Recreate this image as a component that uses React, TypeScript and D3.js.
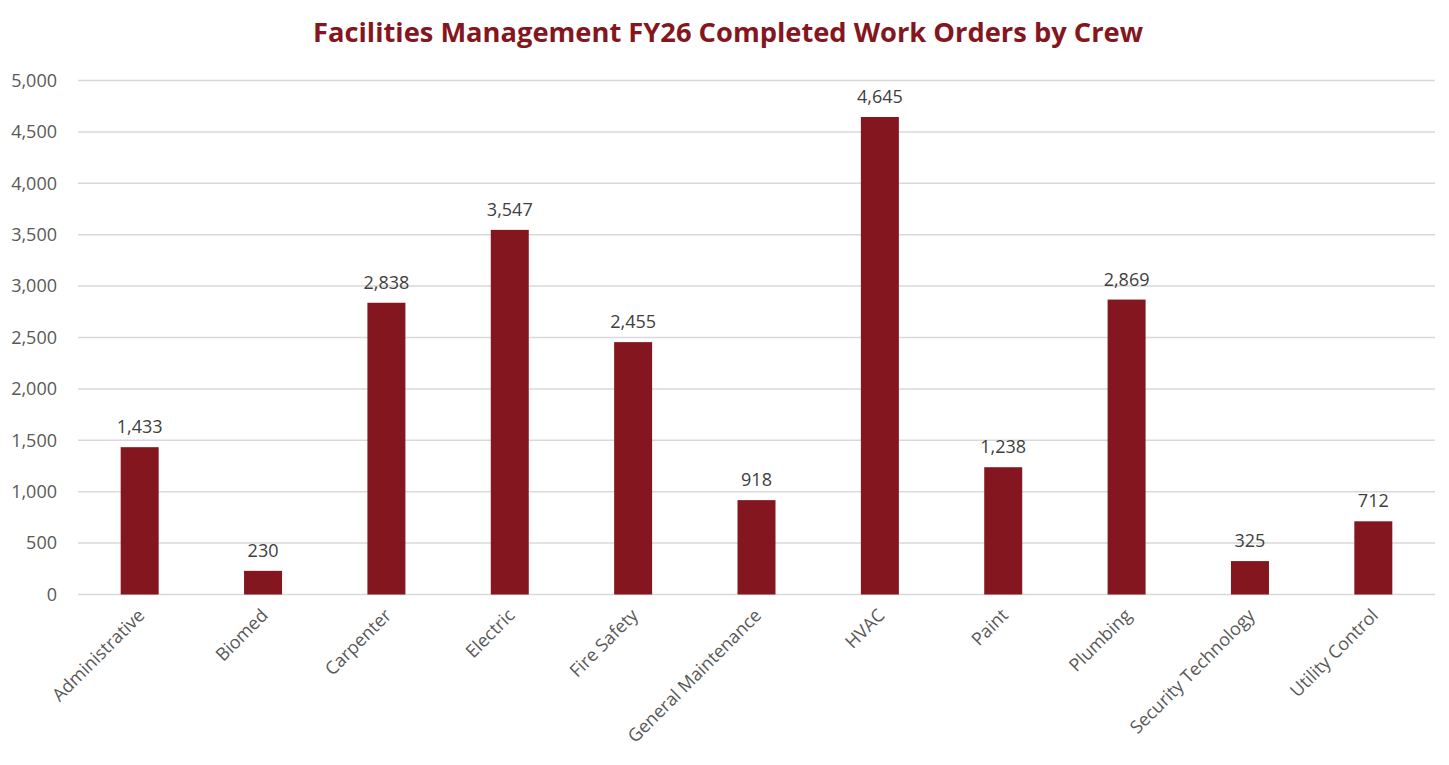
import React, {useEffect, useRef} from 'react';
import * as d3 from 'd3';

const crews = [
  'Administrative',
  'Biomed',
  'Carpenter',
  'Electric',
  'Fire Safety',
  'General Maintenance',
  'HVAC',
  'Paint',
  'Plumbing',
  'Security Technology',
  'Utility Control',
];
const completed = [1433, 230, 2838, 3547, 2455, 918, 4645, 1238, 2869, 325, 712];
const yTicks = [0, 500, 1000, 1500, 2000, 2500, 3000, 3500, 4000, 4500, 5000];

const width = 1449;
const height = 765;
const barColor = '#841620';
const font = "'Open Sans', 'Noto Sans', sans-serif";

const App: React.FC = () => {
  const svgRef = useRef<SVGSVGElement | null>(null);

  useEffect(() => {
    if (!svgRef.current) return;
    const margin = {top: 80.5, right: 14, bottom: 170.5, left: 78};
    const innerWidth = width - margin.left - margin.right;
    const innerHeight = height - margin.top - margin.bottom;

    const svg = d3.select(svgRef.current);
    svg.selectAll('*').remove();

    svg
      .append('text')
      .attr('x', 728)
      .attr('y', 42)
      .attr('text-anchor', 'middle')
      .attr('textLength', 830)
      .attr('lengthAdjust', 'spacingAndGlyphs')
      .style('font-family', font)
      .style('font-weight', 'bold')
      .style('font-size', '27px')
      .style('fill', barColor)
      .text('Facilities Management FY26 Completed Work Orders by Crew');

    const x = d3
      .scaleBand<string>()
      .domain(crews)
      .range([0, innerWidth])
      .paddingInner(0.692)
      .paddingOuter(0.346);
    const y = d3.scaleLinear().domain([0, 5000]).range([innerHeight, 0]);

    const g = svg
      .append('g')
      .attr('transform', `translate(${margin.left},${margin.top})`);

    // gridlines
    g.append('g')
      .selectAll('line')
      .data(yTicks)
      .enter()
      .append('line')
      .attr('x1', 0)
      .attr('x2', innerWidth)
      .attr('y1', (d) => y(d))
      .attr('y2', (d) => y(d))
      .attr('stroke', '#d9d9d9')
      .attr('stroke-width', 1.5);

    // y tick labels
    g.append('g')
      .selectAll('text')
      .data(yTicks)
      .enter()
      .append('text')
      .attr('x', -21)
      .attr('y', (d) => y(d))
      .attr('dy', '0.35em')
      .attr('text-anchor', 'end')
      .style('font-family', font)
      .style('font-size', '18px')
      .style('fill', '#595959')
      .text((d) => d3.format(',')(d));

    const data = crews.map((c, i) => ({crew: c, value: completed[i]}));

    g.append('g')
      .selectAll('rect')
      .data(data)
      .enter()
      .append('rect')
      .attr('x', (d) => x(d.crew)!)
      .attr('width', x.bandwidth())
      .attr('y', (d) => y(d.value))
      .attr('height', (d) => innerHeight - y(d.value))
      .attr('fill', barColor);

    // value labels
    g.append('g')
      .selectAll('text')
      .data(data)
      .enter()
      .append('text')
      .attr('x', (d) => x(d.crew)! + x.bandwidth() / 2)
      .attr('y', (d) => y(d.value) - 14)
      .attr('text-anchor', 'middle')
      .style('font-family', font)
      .style('font-size', '18px')
      .style('fill', '#404040')
      .text((d) => d3.format(',')(d.value));

    // category labels
    g.append('g')
      .selectAll('text')
      .data(crews)
      .enter()
      .append('text')
      .attr(
        'transform',
        (d) =>
          `translate(${x(d)! + x.bandwidth() / 2 + 6},${innerHeight + 22}) rotate(-45)`
      )
      .attr('text-anchor', 'end')
      .style('font-family', font)
      .style('font-size', '18px')
      .style('fill', '#595959')
      .text((d) => d);
  }, []);

  return (
    <svg
      ref={svgRef}
      width={width}
      height={height}
      style={{display: 'block', position: 'absolute', left: 0, top: 0, background: 'white'}}
    />
  );
};

export default App;
